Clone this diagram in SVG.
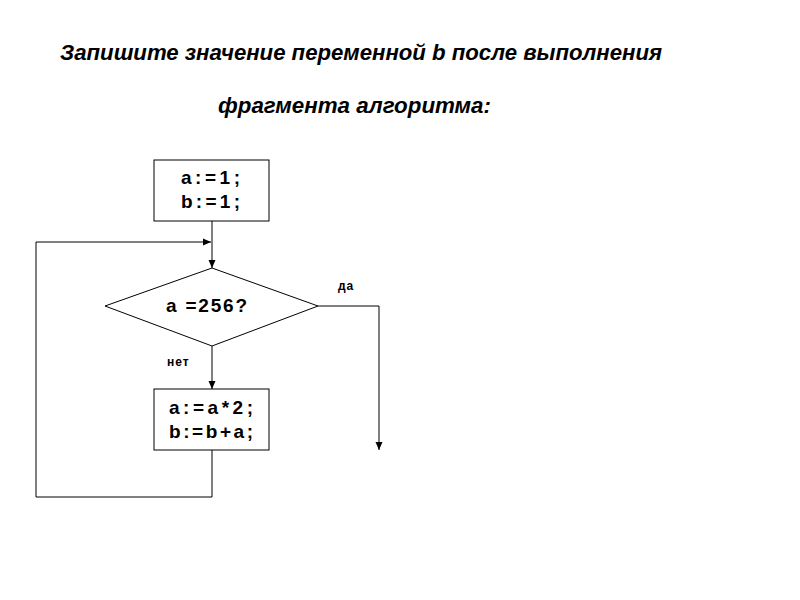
<svg xmlns="http://www.w3.org/2000/svg" width="800" height="600" viewBox="0 0 800 600">
<style>
.title{font-family:"Liberation Sans",Arial,sans-serif;font-weight:bold;font-style:italic;font-size:22px;fill:#000}
.code{font-family:"Liberation Sans",Arial,sans-serif;font-weight:bold;font-size:19px;fill:#000}
.lbl{font-family:"Liberation Sans",Arial,sans-serif;font-weight:bold;font-size:12px;fill:#000;letter-spacing:1px}
.shape{fill:#fff;stroke:#000;stroke-width:1}
.conn{fill:none;stroke:#000;stroke-width:1}
</style>
<defs>
<marker id="arr" markerWidth="8" markerHeight="8" refX="8" refY="4" orient="auto" markerUnits="userSpaceOnUse">
<path d="M0,0.5 L8,4 L0,7.5 z" fill="#000"/>
</marker>
</defs>
<rect width="800" height="600" fill="#fff"/>
<text class="title" x="60" y="60" textLength="602" lengthAdjust="spacingAndGlyphs">Запишите значение переменной b после выполнения</text>
<text class="title" x="218" y="113" textLength="273" lengthAdjust="spacingAndGlyphs">фрагмента алгоритма:</text>
<g id="connectors">
<path class="conn" d="M212,221 V268" marker-end="url(#arr)"/>
<path class="conn" d="M212,346 V389" marker-end="url(#arr)"/>
<path class="conn" d="M212,450 V497 H36 V242 H211" marker-end="url(#arr)"/>
<path class="conn" d="M318,306 H379 V450" marker-end="url(#arr)"/>
<text class="lbl" x="338" y="290">да</text>
<text class="lbl" x="167" y="366">нет</text>
</g>
<g id="init">
<rect class="shape" x="154" y="160" width="115" height="61"/>
<text class="code" x="181" y="184" textLength="59">a:=1;</text>
<text class="code" x="181" y="208" textLength="59">b:=1;</text>
</g>
<g id="cond">
<polygon class="shape" points="212,268 318,306 212,346 105,306"/>
<text class="code" x="166" y="312" textLength="81">a  =256?</text>
</g>
<g id="body">
<rect class="shape" x="154" y="389" width="115" height="61"/>
<text class="code" x="169" y="414" textLength="84">a:=a*2;</text>
<text class="code" x="169" y="438" textLength="84">b:=b+a;</text>
</g>
</svg>
